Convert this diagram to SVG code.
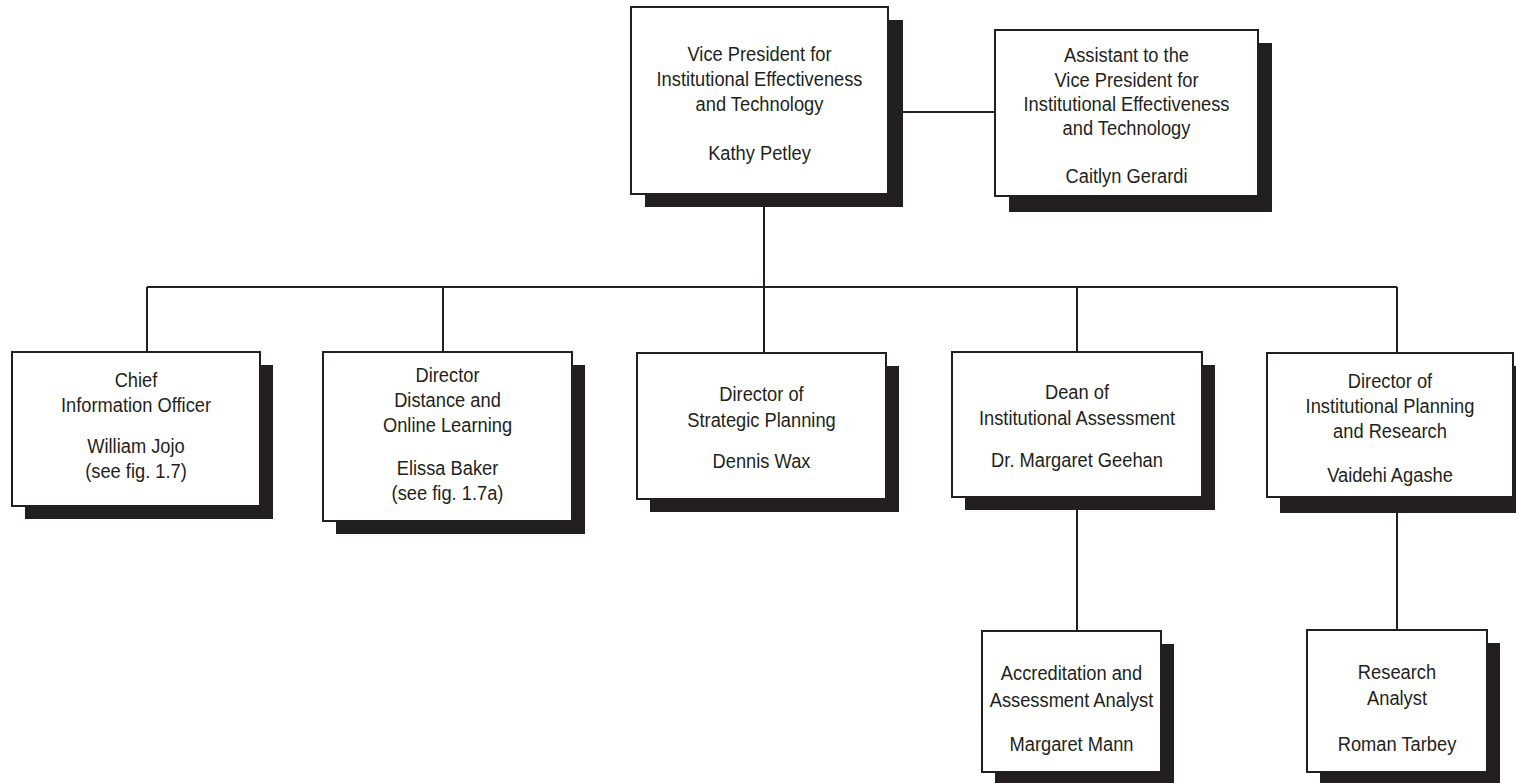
<svg xmlns="http://www.w3.org/2000/svg" width="1516" height="783" viewBox="0 0 1516 783">
<style>
.box{fill:#fff;stroke:#231f20;stroke-width:2}
.sh{fill:#231f20}
.conn{stroke:#231f20;stroke-width:2;fill:none}
.lbl{font-family:'Liberation Sans',Arial,sans-serif;font-size:20px;fill:#231f20;text-anchor:middle}
</style>
<rect width="1516" height="783" fill="#fff"/>
<g id="connectors">
<path class="conn" d="M764 194 V287 M147 287 H1397 M147 287 V352 M443 287 V352 M764 287 V353 M1077 287 V352 M1397 287 V353 M888 112 H995 M1077 497 V631 M1397 497 V630"/>
</g>
<g id="vp">
<rect class="sh" x="645" y="20" width="258" height="187"/>
<rect class="box" x="631" y="7" width="257" height="187"/>
<g transform="translate(759.5 0) scale(0.915 1)" class="lbl">
<text x="0" y="61">Vice President for</text>
<text x="0" y="86">Institutional Effectiveness</text>
<text x="0" y="111">and Technology</text>
<text x="0" y="160">Kathy Petley</text>
</g>
</g>
<g id="assistant">
<rect class="sh" x="1009" y="43" width="263" height="169"/>
<rect class="box" x="995" y="30" width="263" height="166"/>
<g transform="translate(1126.5 0) scale(0.915 1)" class="lbl">
<text x="0" y="62">Assistant to the</text>
<text x="0" y="87">Vice President for</text>
<text x="0" y="111">Institutional Effectiveness</text>
<text x="0" y="135">and Technology</text>
<text x="0" y="183">Caitlyn Gerardi</text>
</g>
</g>
<g id="cio">
<rect class="sh" x="25" y="365" width="248" height="154"/>
<rect class="box" x="12" y="352" width="248" height="154"/>
<g transform="translate(136 0) scale(0.915 1)" class="lbl">
<text x="0" y="387">Chief</text>
<text x="0" y="412">Information Officer</text>
<text x="0" y="453">William Jojo</text>
<text x="0" y="478">(see fig. 1.7)</text>
</g>
</g>
<g id="distance">
<rect class="sh" x="336" y="365" width="249" height="169"/>
<rect class="box" x="323" y="352" width="249" height="169"/>
<g transform="translate(447.5 0) scale(0.915 1)" class="lbl">
<text x="0" y="382">Director</text>
<text x="0" y="407">Distance and</text>
<text x="0" y="432">Online Learning</text>
<text x="0" y="475">Elissa Baker</text>
<text x="0" y="500">(see fig. 1.7a)</text>
</g>
</g>
<g id="strategic">
<rect class="sh" x="650" y="366" width="249" height="146"/>
<rect class="box" x="637" y="353" width="249" height="146"/>
<g transform="translate(761.5 0) scale(0.915 1)" class="lbl">
<text x="0" y="401">Director of</text>
<text x="0" y="427">Strategic Planning</text>
<text x="0" y="468">Dennis Wax</text>
</g>
</g>
<g id="dean">
<rect class="sh" x="965" y="365" width="250" height="145"/>
<rect class="box" x="952" y="352" width="250" height="145"/>
<g transform="translate(1077 0) scale(0.915 1)" class="lbl">
<text x="0" y="399">Dean of</text>
<text x="0" y="425">Institutional Assessment</text>
<text x="0" y="467">Dr. Margaret Geehan</text>
</g>
</g>
<g id="ipr">
<rect class="sh" x="1280" y="366" width="246" height="147"/>
<rect class="box" x="1267" y="353" width="246" height="144"/>
<g transform="translate(1390 0) scale(0.915 1)" class="lbl">
<text x="0" y="388">Director of</text>
<text x="0" y="413">Institutional Planning</text>
<text x="0" y="438">and Research</text>
<text x="0" y="482">Vaidehi Agashe</text>
</g>
</g>
<g id="accreditation">
<rect class="sh" x="995" y="644" width="179" height="145"/>
<rect class="box" x="982" y="631" width="179" height="141"/>
<g transform="translate(1071.5 0) scale(0.915 1)" class="lbl">
<text x="0" y="680">Accreditation and</text>
<text x="0" y="707">Assessment Analyst</text>
<text x="0" y="751">Margaret Mann</text>
</g>
</g>
<g id="research">
<rect class="sh" x="1320" y="643" width="180" height="145"/>
<rect class="box" x="1307" y="630" width="180" height="142"/>
<g transform="translate(1397 0) scale(0.915 1)" class="lbl">
<text x="0" y="679">Research</text>
<text x="0" y="705">Analyst</text>
<text x="0" y="751">Roman Tarbey</text>
</g>
</g>
</svg>
